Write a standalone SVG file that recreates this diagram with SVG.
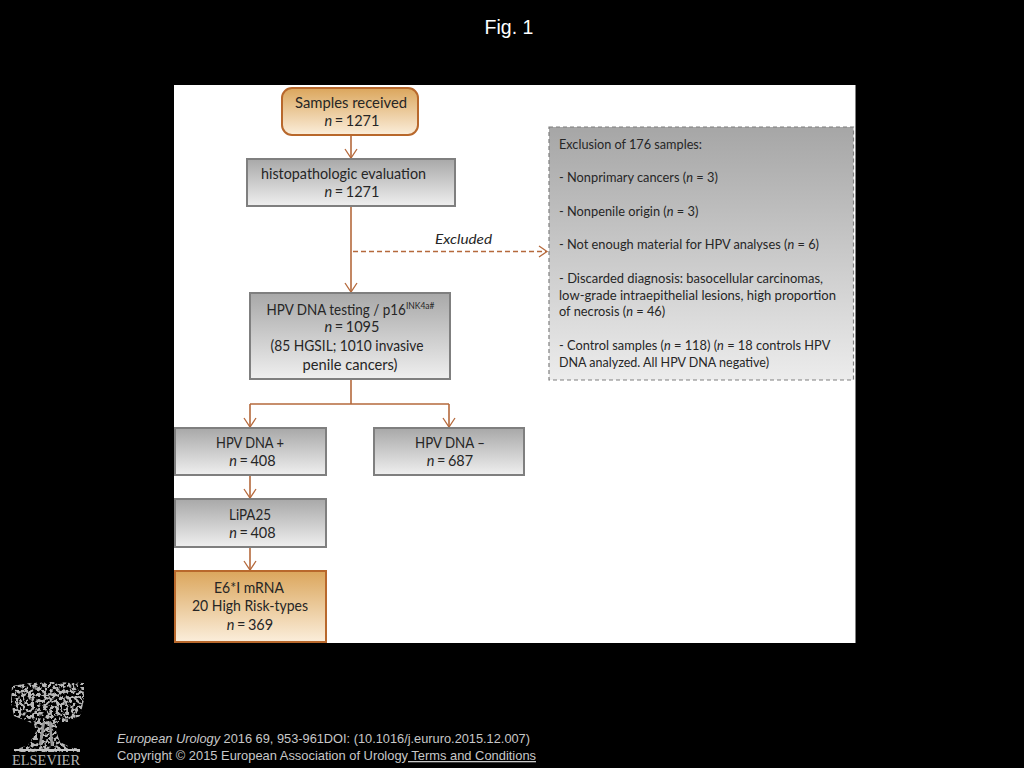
<svg xmlns="http://www.w3.org/2000/svg" width="1024" height="768" viewBox="0 0 1024 768">
<style>
text{font-family:"Lato","Carlito","Liberation Sans",sans-serif;fill:#262626;font-size:15px}
.m{text-anchor:middle}
.n{font-size:14.5px;word-spacing:-1.2px}
.s{font-size:12.8px}
.a{font-family:"Liberation Sans",Arial,sans-serif;fill:#c8c8c8;font-size:13px}
.box{fill:url(#gray);stroke:#7f7f7f;stroke-width:2}
.org{fill:url(#orange);stroke:#b8682c;stroke-width:2}
.c{fill:none;stroke:#b5693c;stroke-width:1.6}
.h{fill:none;stroke:#b5693c;stroke-width:1.3}
</style>
<defs>
<linearGradient id="gray" x1="0" y1="0" x2="0" y2="1"><stop offset="0" stop-color="#a8a8a8"/><stop offset="1" stop-color="#efefef"/></linearGradient>
<linearGradient id="orange" x1="0" y1="0" x2="0" y2="1"><stop offset="0" stop-color="#dba65c"/><stop offset="1" stop-color="#fbeedb"/></linearGradient>
<linearGradient id="dash" x1="0" y1="0" x2="0" y2="1"><stop offset="0" stop-color="#a6a6a6"/><stop offset="1" stop-color="#ececec"/></linearGradient>
<filter id="speckle" x="0" y="0" width="1" height="1">
<feTurbulence type="fractalNoise" baseFrequency="0.32" numOctaves="2" seed="7" result="t"/>
<feColorMatrix in="t" type="matrix" values="0 0 0 0 0  0 0 0 0 0  0 0 0 0 0  0 0 0 9 -4.100" result="m"/>
<feComposite in="SourceGraphic" in2="m" operator="in"/>
</filter>
</defs>
<rect width="1024" height="768" fill="#000"/>
<text x="509" y="34" class="m" style="font-family:'Liberation Sans',Arial,sans-serif;fill:#fff;font-size:19.500px">Fig. 1</text>
<rect id="panel" x="174" y="85" width="681.500" height="558" fill="#fff"/>

<g id="connectors">
<path class="c" d="M351 135V158M351 206V292M351 379V404M250 404H449M250 404V427M449 404V427M250 475V498M250 547V570"/>
<path class="c" d="M353 251.500H546" stroke-dasharray="5 3" stroke-width="1.200"/>
<path class="h" d="M345 149L351 158L357 149M345 283L351 292L357 283M244 418L250 427L256 418M443 418L449 427L455 418M244 489L250 498L256 489M244 561L250 570L256 561M539 246L547 251.500L539 257"/>
</g>

<g id="n-samples"><rect class="org" x="282" y="88" width="136" height="47" rx="10"/>
<text x="351" y="108" class="m" textLength="112" lengthAdjust="spacingAndGlyphs">Samples received</text>
<text x="352" y="126" class="m n"><tspan font-style="italic">n</tspan> = 1271</text></g>

<g id="n-histo"><rect class="box" x="247" y="159" width="208" height="47"/>
<text x="261" y="179" textLength="165" lengthAdjust="spacingAndGlyphs">histopathologic evaluation</text>
<text x="352" y="197" class="m n"><tspan font-style="italic">n</tspan> = 1271</text></g>

<g id="n-hpv"><rect class="box" x="250" y="293" width="200" height="86"/>
<text x="266.500" y="315" textLength="168" lengthAdjust="spacingAndGlyphs">HPV DNA testing / p16<tspan dy="-6" style="font-size:9.500px">INK4a#</tspan></text>
<text x="352" y="332" class="m n"><tspan font-style="italic">n</tspan> = 1095</text>
<text x="347" y="351" class="m" textLength="153" lengthAdjust="spacingAndGlyphs">(85 HGSIL; 1010 invasive</text>
<text x="350" y="370" class="m" textLength="95" lengthAdjust="spacingAndGlyphs">penile cancers)</text></g>

<g id="n-pos"><rect class="box" x="175" y="428" width="151" height="47"/>
<text x="250" y="448" class="m" textLength="68" lengthAdjust="spacingAndGlyphs">HPV DNA +</text>
<text x="252.500" y="466" class="m n"><tspan font-style="italic">n</tspan> = 408</text></g>

<g id="n-neg"><rect class="box" x="374" y="428" width="150" height="47"/>
<text x="450" y="448" class="m" textLength="70" lengthAdjust="spacingAndGlyphs">HPV DNA –</text>
<text x="450" y="466" class="m n"><tspan font-style="italic">n</tspan> = 687</text></g>

<g id="n-lipa"><rect class="box" x="175" y="499" width="151" height="48"/>
<text x="250" y="520" class="m" textLength="42" lengthAdjust="spacingAndGlyphs">LiPA25</text>
<text x="252.500" y="538" class="m n"><tspan font-style="italic">n</tspan> = 408</text></g>

<g id="n-e6"><rect class="org" x="175" y="571" width="151" height="71"/>
<text x="249" y="593" class="m" textLength="70" lengthAdjust="spacingAndGlyphs">E6*I mRNA</text>
<text x="250" y="611" class="m" textLength="116" lengthAdjust="spacingAndGlyphs">20 High Risk-types</text>
<text x="250" y="630" class="m n"><tspan font-style="italic">n</tspan> = 369</text></g>

<text id="l-excluded" x="435" y="244" font-style="italic" textLength="57" lengthAdjust="spacingAndGlyphs" style="font-size:14px">Excluded</text>

<g id="n-exclusion"><rect x="549" y="127" width="304.500" height="253" fill="url(#dash)" stroke="#7f7f7f" stroke-width="1.200" stroke-dasharray="4 3"/>
<text class="s" x="559" y="149" textLength="143" lengthAdjust="spacingAndGlyphs">Exclusion of 176 samples:</text>
<text class="s" x="559" y="182"><tspan>- Nonprimary cancers (</tspan><tspan font-style="italic">n</tspan><tspan> = 3)</tspan></text>
<text class="s" x="559" y="216"><tspan>- Nonpenile origin (</tspan><tspan font-style="italic">n</tspan><tspan> = 3)</tspan></text>
<text class="s" x="559" y="249"><tspan>- Not enough material for HPV analyses (</tspan><tspan font-style="italic">n</tspan><tspan> = 6)</tspan></text>
<text class="s" x="559" y="283" textLength="264" lengthAdjust="spacingAndGlyphs">- Discarded diagnosis: basocellular carcinomas,</text>
<text class="s" x="559" y="300" textLength="277" lengthAdjust="spacingAndGlyphs">low-grade intraepithelial lesions, high proportion</text>
<text class="s" x="559" y="316"><tspan>of necrosis (</tspan><tspan font-style="italic">n</tspan><tspan> = 46)</tspan></text>
<text class="s" x="559" y="350"><tspan>- Control samples (</tspan><tspan font-style="italic">n</tspan><tspan> = 118) (</tspan><tspan font-style="italic">n</tspan><tspan> = 18 controls HPV</tspan></text>
<text class="s" x="559" y="367" textLength="210" lengthAdjust="spacingAndGlyphs">DNA analyzed. All HPV DNA negative)</text></g>

<g id="logo">
<path filter="url(#speckle)" d="M12 686L30 683L50 682L84 683L84 700L80 716L68 722L58 722L56 731L60 742L70 747L80 749V752H15L20 748L28 745L36 732L34 724L24 720L14 716L11 702Z" fill="#b8b8b8"/>
<path d="M44 722L40 745M50 722L52 746" stroke="#9a9a9a" stroke-width="2.500" fill="none"/>
<path d="M14 750H80" stroke="#c4c4c4" stroke-width="2"/>
<text x="46" y="765" text-anchor="middle" style="font-family:'Liberation Serif',serif;fill:#b5b5b5;font-size:14.500px" textLength="68" lengthAdjust="spacingAndGlyphs">ELSEVIER</text>
</g>
<text class="a" x="117" y="743" textLength="413" lengthAdjust="spacingAndGlyphs"><tspan font-style="italic">European Urology</tspan> 2016 69, 953-961DOI: (10.1016/j.eururo.2015.12.007)</text>
<text class="a" x="117" y="760" textLength="419" lengthAdjust="spacingAndGlyphs">Copyright © 2015 European Association of Urology<tspan text-decoration="underline"> Terms and Conditions</tspan></text>
</svg>
